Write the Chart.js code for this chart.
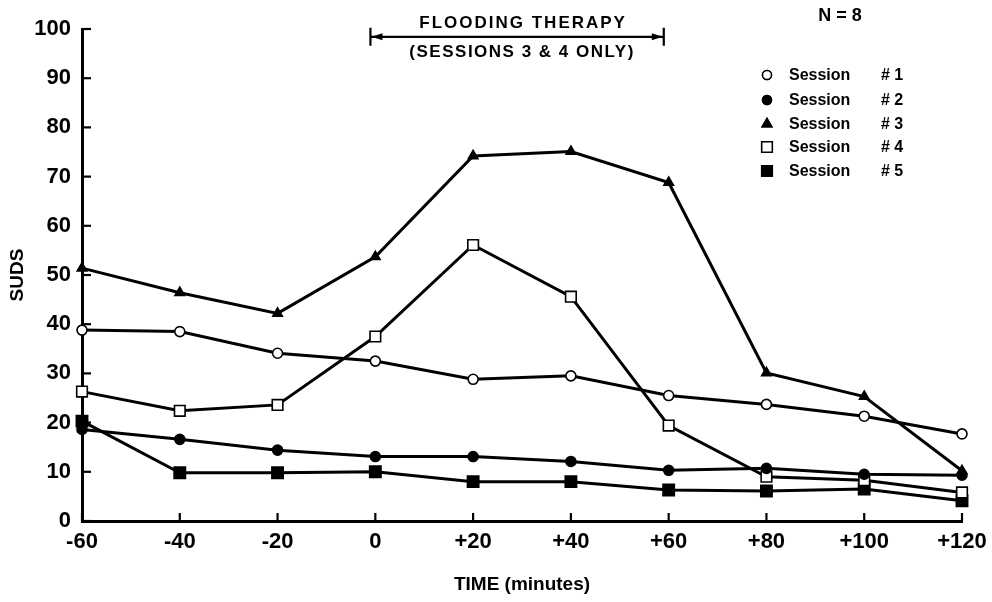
<!DOCTYPE html>
<html>
<head>
<meta charset="utf-8">
<script src="https://cdn.jsdelivr.net/npm/chart.js@4/dist/chart.umd.min.js"></script>
<style>
  html, body { margin: 0; padding: 0; background: #fff; }
  #wrap { width: 992px; height: 602px; }
</style>
</head>
<body>
<div id="wrap"><canvas id="suds"></canvas></div>
<script>
// time points, minutes
var times = [-60, -40, -20, 0, 20, 40, 60, 80, 100, 120];
var yTicks = [0, 10, 20, 30, 40, 50, 60, 70, 80, 90, 100];

var session1 = [38.8, 38.5, 34.1, 32.5, 28.8, 29.5, 25.5, 23.7, 21.3, 17.7];
var session2 = [18.6, 16.6, 14.4, 13.1, 13.1, 12.1, 10.3, 10.7, 9.5, 9.3];
var session3 = [51.4, 46.4, 42.2, 53.7, 74.2, 75.1, 68.8, 30.1, 25.3, 10.2];
var session4 = [26.3, 22.4, 23.6, 37.5, 56.1, 45.6, 19.4, 9.0, 8.3, 5.8];
var session5 = [20.3, 9.8, 9.8, 10.0, 8.0, 8.0, 6.3, 6.1, 6.5, 4.1];

var sessionNames = ["Session # 1", "Session # 2", "Session # 3", "Session # 4", "Session # 5"];

var FONT = "'Liberation Sans', Arial, sans-serif";

function pts(vals) {
  var out = [];
  for (var i = 0; i < times.length; i++) out.push({x: times[i], y: vals[i]});
  return out;
}

function makeSet(label, vals, style, filled, radius) {
  return {
    label: label,
    data: pts(vals),
    borderColor: '#000',
    borderWidth: 3,
    backgroundColor: filled ? '#000' : '#fff',
    pointStyle: style,
    pointRadius: radius,
    pointBorderWidth: 1.6,
    pointBorderColor: '#000',
    pointBackgroundColor: filled ? '#000' : '#fff',
    tension: 0,
    fill: false,
    clip: false
  };
}

// inward tick marks, arrows and legend text
var decorations = {
  id: 'decorations',
  afterDatasetsDraw: function(chart) {
    var ctx = chart.ctx;
    var xs = chart.scales.x, ys = chart.scales.y;
    var area = chart.chartArea;
    ctx.save();
    ctx.strokeStyle = '#000';
    ctx.lineWidth = 2.2;
    times.forEach(function(t) {
      var px = xs.getPixelForValue(t);
      ctx.beginPath();
      ctx.moveTo(px, area.bottom);
      ctx.lineTo(px, area.bottom - 8);
      ctx.stroke();
    });
    yTicks.forEach(function(v) {
      var py = ys.getPixelForValue(v);
      ctx.beginPath();
      ctx.moveTo(area.left, py);
      ctx.lineTo(area.left + 9, py);
      ctx.stroke();
    });

    // flooding therapy bracket
    var x0 = xs.getPixelForValue(-1), x1 = xs.getPixelForValue(59);
    var ay = ys.getPixelForValue(98.4);
    ctx.lineWidth = 2.2;
    ctx.beginPath();
    ctx.moveTo(x0, ay); ctx.lineTo(x1, ay);
    ctx.moveTo(x0, ay - 9); ctx.lineTo(x0, ay + 9);
    ctx.moveTo(x1, ay - 9); ctx.lineTo(x1, ay + 9);
    ctx.stroke();
    ctx.fillStyle = '#000';
    ctx.beginPath();
    ctx.moveTo(x0 + 1, ay); ctx.lineTo(x0 + 12, ay - 3.5); ctx.lineTo(x0 + 12, ay + 3.5); ctx.closePath();
    ctx.moveTo(x1 - 1, ay); ctx.lineTo(x1 - 12, ay - 3.5); ctx.lineTo(x1 - 12, ay + 3.5); ctx.closePath();
    ctx.fill();

    ctx.font = 'bold 17px ' + FONT;
    ctx.textAlign = 'center';
    ctx.textBaseline = 'middle';
    var cx = (x0 + x1) / 2;
    ctx.letterSpacing = '2px';
    ctx.fillText('FLOODING THERAPY', cx + 6, 23);
    ctx.letterSpacing = '1.5px';
    ctx.fillText('(SESSIONS 3 & 4 ONLY)', cx + 5, 52);
    ctx.letterSpacing = '0px';
    ctx.font = 'bold 18px ' + FONT;
    ctx.fillText('N = 8', 840, 16);

    // legend
    var rows = [75, 100, 124, 147, 171];
    chart.data.datasets.forEach(function(ds, i) {
      var my = rows[i];
      var r = ds.pointStyle === 'rect' ? 7.5 : (ds.pointStyle === 'triangle' ? 5.5 : 4.5);
      ctx.fillStyle = ds.pointBackgroundColor;
      ctx.strokeStyle = '#000';
      ctx.lineWidth = 1.5;
      Chart.helpers.drawPoint(ctx, {pointStyle: ds.pointStyle, radius: r, borderWidth: 1.5}, 767, my);
      ctx.fill();
      ctx.stroke();
      var parts = ds.label.split(' # ');
      ctx.fillStyle = '#000';
      ctx.font = 'bold 16px ' + FONT;
      ctx.textAlign = 'left';
      ctx.fillText(parts[0], 789, my + 1);
      ctx.fillText('# ' + parts[1], 881, my + 1);
    });
    ctx.restore();
  }
};

new Chart(document.getElementById('suds').getContext('2d'), {
  type: 'line',
  data: {
    datasets: [
      makeSet(sessionNames[0], session1, 'circle', false, 5),
      makeSet(sessionNames[1], session2, 'circle', true, 5),
      makeSet(sessionNames[2], session3, 'triangle', true, 5.5),
      makeSet(sessionNames[3], session4, 'rect', false, 7.5),
      makeSet(sessionNames[4], session5, 'rect', true, 8)
    ]
  },
  options: {
    responsive: true,
    maintainAspectRatio: false,
    animation: false,
    layout: { padding: { top: 29, right: 30, left: 0, bottom: 0 } },
    plugins: {
      legend: { display: false },
      tooltip: { enabled: false }
    },
    scales: {
      x: {
        type: 'linear',
        min: -60,
        max: 120,
        afterFit: function(scale) { scale.height = 81; },
        afterBuildTicks: function(scale) {
          scale.ticks = times.map(function(t) { return {value: t}; });
        },
        grid: { display: false },
        border: { display: true, color: '#000', width: 3 },
        ticks: {
          color: '#000',
          padding: 0,
          maxRotation: 0,
          font: { family: FONT, size: 22, weight: 'bold' },
          callback: function(v) { return v > 0 ? '+' + v : String(v); }
        },
        title: {
          display: true,
          text: 'TIME (minutes)',
          color: '#000',
          padding: { top: 0, bottom: 6 },
          font: { family: FONT, size: 19, weight: 'bold' }
        }
      },
      y: {
        min: 0,
        max: 100,
        afterFit: function(scale) { scale.width = 82; },
        afterBuildTicks: function(scale) {
          scale.ticks = yTicks.map(function(v) { return {value: v}; });
        },
        grid: { display: false },
        border: { display: true, color: '#000', width: 3 },
        ticks: {
          color: '#000',
          padding: 3,
          font: { family: FONT, size: 22, weight: 'bold' }
        },
        title: {
          display: true,
          text: 'SUDS',
          color: '#000',
          padding: { top: 6, bottom: 0 },
          font: { family: FONT, size: 19, weight: 'bold' }
        }
      }
    }
  },
  plugins: [decorations]
});
</script>
</body>
</html>
